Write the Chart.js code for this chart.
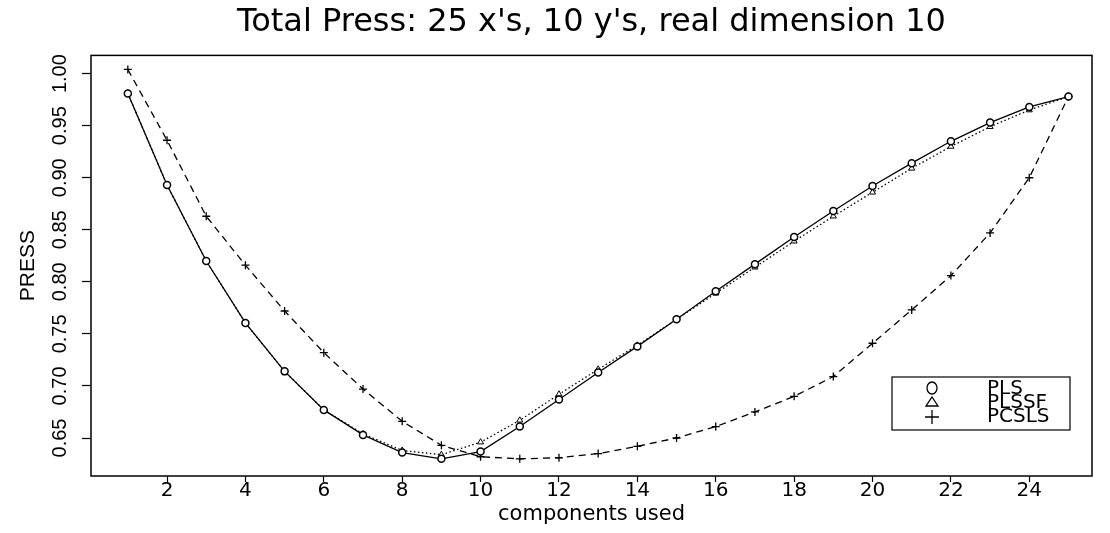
<!DOCTYPE html>
<html>
<head>
<meta charset="utf-8">
<script src="https://cdn.jsdelivr.net/npm/chart.js@4"></script>
<style>
  html, body { margin: 0; padding: 0; background: #fff; }
  #wrap { width: 1110px; height: 533px; position: relative; }
</style>
</head>
<body>
<div id="wrap"><canvas id="pressChart"></canvas></div>
<script>
// ── Data ──────────────────────────────────────────────────────────
const components = [1,2,3,4,5,6,7,8,9,10,11,12,13,14,15,16,17,18,19,20,21,22,23,24,25];
const plsPress   = [0.981,0.893,0.820,0.7605,0.714,0.677,0.653,0.636,0.630,0.637,0.661,0.687,0.713,
                    0.738,0.764,0.791,0.817,0.843,0.868,0.892,0.914,0.935,0.953,0.968,0.978];
const plssfPress = [0.981,0.893,0.820,0.7605,0.714,0.677,0.654,0.638,0.634,0.646,0.667,0.692,0.716,
                    0.739,0.764,0.789,0.814,0.839,0.863,0.886,0.909,0.930,0.949,0.965,0.978];
const pcslsPress = [1.004,0.936,0.863,0.816,0.772,0.732,0.697,0.666,0.643,0.632,0.630,0.631,0.635,
                    0.642,0.650,0.661,0.675,0.690,0.709,0.741,0.773,0.806,0.847,0.900,0.978];
const xTicks = [2,4,6,8,10,12,14,16,18,20,22,24];
const yTicks = [0.65,0.70,0.75,0.80,0.85,0.90,0.95,1.00];
const legendNames = ['PLS','PLSSF','PCSLS'];

const WIDE   = '"DejaVu Sans", "Liberation Sans", sans-serif';
const NARROW = '"Liberation Sans", Arial, sans-serif';

function pts(ys) { return components.map((x, i) => ({ x: x, y: ys[i] })); }

// ── Plot box + legend ─────────────────────────────────────────────
const framePlugin = {
  id: 'frame',
  afterDraw(chart) {
    const ctx = chart.ctx, a = chart.chartArea;
    ctx.save();
    ctx.strokeStyle = '#000';
    ctx.lineWidth = 1.5;
    ctx.strokeRect(a.left, a.top, a.right - a.left, a.bottom - a.top);

    // legend box
    const lx = 892, ly = 377, lw = 178, lh = 53;
    ctx.lineWidth = 1.2;
    ctx.strokeRect(lx, ly, lw, lh);
    const sx = 932, rows = [388, 402, 416];
    ctx.lineWidth = 1.3;
    ctx.beginPath(); ctx.ellipse(sx, rows[0], 5, 6, 0, 0, Math.PI * 2); ctx.stroke();
    ctx.beginPath();
    ctx.moveTo(sx, rows[1] - 5); ctx.lineTo(sx + 6, rows[1] + 4); ctx.lineTo(sx - 6, rows[1] + 4);
    ctx.closePath(); ctx.stroke();
    ctx.beginPath();
    ctx.moveTo(sx - 7, rows[2] + 1); ctx.lineTo(sx + 7, rows[2] + 1);
    ctx.moveTo(sx, rows[2] - 6); ctx.lineTo(sx, rows[2] + 8);
    ctx.stroke();
    ctx.fillStyle = '#000';
    ctx.font = '20px ' + WIDE;
    ctx.textAlign = 'left';
    ctx.textBaseline = 'middle';
    legendNames.forEach((n, i) => ctx.fillText(n, 987, rows[i] + 1));
    ctx.restore();
  }
};

new Chart(document.getElementById('pressChart').getContext('2d'), {
  type: 'line',
  data: {
    datasets: [
      { label: 'PLS', data: pts(plsPress), borderColor: '#000', borderWidth: 1.3,
        pointStyle: 'circle', pointRadius: 3.5, pointBorderWidth: 1.5,
        pointBackgroundColor: '#fff', pointBorderColor: '#000', tension: 0 },
      { label: 'PLSSF', data: pts(plssfPress), borderColor: '#000', borderWidth: 1.3,
        borderDash: [1.5, 2.5],
        pointStyle: 'triangle', pointRadius: 3.5, pointBorderWidth: 1,
        pointBackgroundColor: '#fff', pointBorderColor: '#000', tension: 0 },
      { label: 'PCSLS', data: pts(pcslsPress), borderColor: '#000', borderWidth: 1.3,
        borderDash: [7, 5],
        pointStyle: 'cross', pointRadius: 4, pointBorderWidth: 1.3,
        pointBorderColor: '#000', tension: 0 }
    ]
  },
  options: {
    responsive: true, maintainAspectRatio: false, animation: false,
    layout: { padding: { left: 0, right: 18, top: 0, bottom: 0 } },
    plugins: {
      legend: { display: false },
      tooltip: { enabled: false },
      title: { display: true, fullSize: false,
               text: "Total Press: 25 x's, 10 y's, real dimension 10",
               color: '#000', font: { family: WIDE, size: 32, weight: 'normal', lineHeight: 1.2 },
               padding: { top: 3, bottom: 14 } }
    },
    scales: {
      x: {
        type: 'linear', min: 0.06, max: 25.6,
        afterBuildTicks: s => { s.ticks = xTicks.map(v => ({ value: v })); },
        afterFit: s => { s.height = 57; },
        grid: { drawOnChartArea: false, drawTicks: true, tickLength: 6, tickColor: '#000', tickWidth: 1.2 },
        border: { display: false },
        ticks: { color: '#000', font: { family: WIDE, size: 20 }, padding: -3, maxRotation: 0,
                 callback: v => String(v) },
        title: { display: true, text: 'components used', color: '#000',
                 font: { family: WIDE, size: 21 }, padding: { top: 0, bottom: 6 } }
      },
      y: {
        type: 'linear', min: 0.6135, max: 1.0175,
        afterBuildTicks: s => { s.ticks = yTicks.map(v => ({ value: v })); },
        afterFit: s => { s.width = 91; },
        grid: { drawOnChartArea: false, drawTicks: true, tickLength: 9, tickColor: '#000', tickWidth: 1.2 },
        border: { display: false },
        ticks: { color: '#000', font: { family: NARROW, size: 20 }, padding: 2,
                 minRotation: 90, maxRotation: 90, crossAlign: 'center',
                 callback: v => v.toFixed(2) },
        title: { display: true, text: 'PRESS', color: '#000',
                 font: { family: NARROW, size: 21 }, padding: { top: 16, bottom: 0 } }
      }
    }
  },
  plugins: [framePlugin]
});
</script>
</body>
</html>
